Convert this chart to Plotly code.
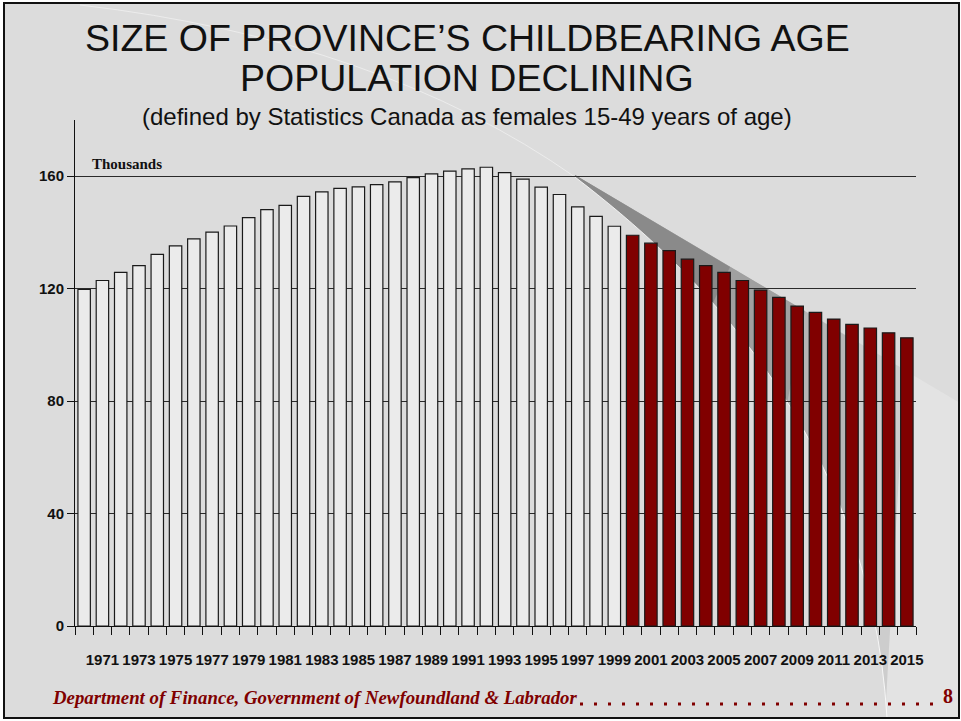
import plotly.graph_objects as go

W, H = 961, 721

# population of females 15-49, thousands
actual_years = list(range(1970, 2000))
actual_values = [119.7, 122.9, 125.8, 128.2, 132.2, 135.2, 137.7, 140.1, 142.3, 145.3,
                 148.1, 149.6, 152.8, 154.4, 155.7, 156.2, 157.0, 158.0, 159.5, 160.8,
                 161.8, 162.6, 163.2, 161.3, 159.0, 156.1, 153.5, 149.1, 145.7, 142.2]
projected_years = list(range(2000, 2016))
projected_values = [139.0, 136.2, 133.5, 130.5, 128.2, 125.8, 122.9, 119.5,
                    116.9, 113.8, 111.6, 109.2, 107.3, 106.0, 104.3, 102.5]
tick_years = [1971, 1973, 1975, 1977, 1979, 1981, 1983, 1985, 1987, 1989, 1991,
              1993, 1995, 1997, 1999, 2001, 2003, 2005, 2007, 2009, 2011, 2013, 2015]
y_ticks = [0, 40, 80, 120, 160]

BG = "#dcdcdc"
RED = "#800000"
SANS = "Liberation Sans, Arial, sans-serif"
SERIF = "Liberation Serif, Times New Roman, serif"


def px(x, y):
    return x / W, 1 - y / H


def poly(pts):
    return "M" + " L".join("%.5f,%.5f" % px(x, y) for x, y in pts) + " Z"


all_years = actual_years + projected_years
boundaries = [y - 0.5 for y in all_years] + [all_years[-1] + 0.5]

fig = go.Figure()
bar_line = dict(color="#1a1a1a", width=1.2)
fig.add_trace(go.Bar(x=actual_years, y=actual_values, width=0.68, name="Actual",
                     marker=dict(color="#ebebeb", line=bar_line)))
fig.add_trace(go.Bar(x=projected_years, y=projected_values, width=0.68, name="Projected",
                     marker=dict(color=RED, line=bar_line)))

# slide background and page-curl decoration
shapes = [
    dict(type="rect", xref="paper", yref="paper", x0=4 / W, x1=959 / W, y0=1 - 718 / H, y1=1 - 3 / H,
         fillcolor=BG, line=dict(width=0), layer="below"),
]
layers = [
    ("#e3e3e3", [(575, 175), (960, 403), (960, 718), (650, 718)]),
    ("#cdcdcd", [(575, 175), (905, 370), (885, 718), (650, 718)]),
    ("#b6b6b6", [(575, 175), (855, 341), (845, 580), (640, 520)]),
    ("#a0a0a0", [(575, 175), (805, 311), (780, 440), (620, 360)]),
    ("#8a8a8a", [(575, 175), (730, 267), (700, 330), (600, 260)]),
]
for col, pts in layers:
    shapes.append(dict(type="path", xref="paper", yref="paper", path=poly(pts),
                       fillcolor=col, line=dict(width=0), layer="below"))
curve = "M%.5f,%.5f C%.5f,%.5f %.5f,%.5f %.5f,%.5f" % (px(575, 177) + px(690, 265) + px(870, 430) + px(887, 718))
mask = curve + " L%.5f,%.5f L%.5f,%.5f Z" % (px(4, 718) + px(4, 177))
shapes.append(dict(type="path", xref="paper", yref="paper", path=mask,
                   fillcolor=BG, line=dict(width=0), layer="below"))
faint = "M%.5f,%.5f Q%.5f,%.5f %.5f,%.5f" % (px(80, 5) + px(380, 40) + px(575, 177))
shapes.append(dict(type="path", xref="paper", yref="paper", path=faint,
                   line=dict(color="rgba(255,255,255,0.45)", width=1), layer="below"))
shapes.append(dict(type="path", xref="paper", yref="paper", path=curve,
                   line=dict(color="rgba(255,255,255,0.8)", width=1), layer="below"))
# dotted leader in the footer
shapes.append(dict(type="line", xref="paper", yref="paper",
                   x0=px(580, 0)[0], x1=px(934, 0)[0], y0=px(0, 704)[1], y1=px(0, 704)[1],
                   line=dict(color=RED, width=3, dash="3px,11px"), layer="above"))
shapes.append(dict(type="rect", xref="paper", yref="paper", x0=4 / W, x1=959 / W, y0=1 - 718 / H, y1=1 - 3 / H,
                   line=dict(color="#111111", width=2), layer="above"))

annotations = [
    dict(text="SIZE OF PROVINCE\u2019S CHILDBEARING AGE", x=px(467, 0)[0], y=px(0, 38)[1],
         font=dict(family=SANS, size=37.5, color="#111111")),
    dict(text="POPULATION DECLINING", x=px(467, 0)[0], y=px(0, 78)[1],
         font=dict(family=SANS, size=37.5, color="#111111")),
    dict(text="(defined by Statistics Canada as females 15-49 years of age)", x=px(467, 0)[0], y=px(0, 116)[1],
         font=dict(family=SANS, size=24, color="#111111")),
    dict(text="Thousands", x=px(90, 0)[0], y=px(0, 164)[1], xanchor="left",
         font=dict(family=SERIF, size=15, color="#111111", weight="bold")),
    dict(text="Department of Finance, Government of Newfoundland &amp; Labrador", x=px(50, 0)[0],
         y=px(0, 697)[1], xanchor="left",
         font=dict(family=SERIF, size=18.8, color=RED, weight="bold", style="italic")),
    dict(text="8", x=px(948, 0)[0], y=px(0, 696)[1],
         font=dict(family=SERIF, size=20, color=RED, weight="bold")),
]
for a in annotations:
    a.update(xref="paper", yref="paper", showarrow=False)
    a.setdefault("xanchor", "center")
    a["yanchor"] = "middle"

fig.update_layout(
    width=W, height=H,
    margin=dict(l=0, r=0, t=0, b=0),
    paper_bgcolor="white",
    plot_bgcolor="rgba(0,0,0,0)",
    barmode="overlay",
    showlegend=False,
    shapes=shapes,
    annotations=annotations,
    xaxis=dict(
        domain=[75 / W, 916 / W], range=[1969.5, 2015.5], automargin=False,
        tickvals=tick_years, ticktext=[str(y) for y in tick_years], tickangle=0,
        ticks="", showline=True, linecolor="#111111", linewidth=1, showgrid=False, zeroline=False,
        tickfont=dict(family=SANS, size=15, color="#111111", weight="bold"),
        ticklabelstandoff=20,
        minor=dict(tickvals=boundaries, ticks="outside", ticklen=8, tickcolor="#111111", showgrid=False),
    ),
    yaxis=dict(
        domain=[1 - 626 / H, 1 - 120 / H], range=[0, 180], automargin=False,
        tickvals=y_ticks, ticks="outside", ticklen=7, tickcolor="#111111",
        showline=True, linecolor="#111111", linewidth=1,
        showgrid=True, gridcolor="#2a2a2a", gridwidth=1, zeroline=False,
        tickfont=dict(family=SANS, size=15, color="#111111", weight="bold"),
    ),
)

fig.write_html("out.html", config={"displayModeBar": False},
               post_script="document.body.style.margin='0';")
